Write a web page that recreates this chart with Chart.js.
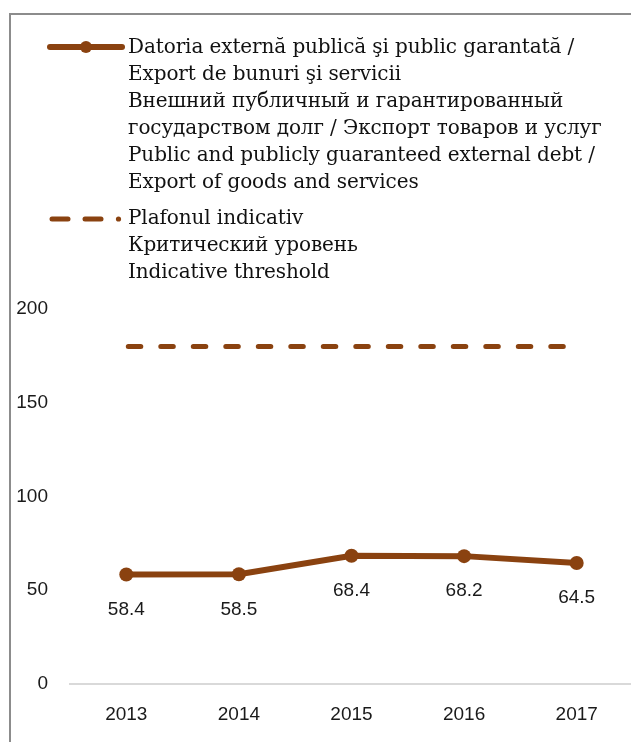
<!DOCTYPE html>
<html>
<head>
<meta charset="utf-8">
<script src="https://cdn.jsdelivr.net/npm/chart.js@4/dist/chart.umd.min.js"></script>
<style>
  html, body { margin: 0; padding: 0; background: #fff; overflow: hidden; width: 631px; height: 742px; }
  #frame { position: absolute; left: 9px; top: 13px; width: 700px; height: 800px; border-left: 2px solid #8c8c8c; border-top: 2px solid #8c8c8c; box-sizing: border-box; }
  #wrap { position: absolute; left: 0; top: 0; width: 640px; height: 742px; }
  .lg { position: absolute; left: 128px; font-family: "DejaVu Serif", serif; font-size: 20px; color: #111; line-height: 27px; white-space: nowrap; letter-spacing: -0.1px; }
  .sym { position: absolute; left: 46px; }
</style>
</head>
<body>
<div id="frame"></div>
<div id="wrap"><canvas id="c" width="640" height="742"></canvas></div>
<svg class="sym" style="top:37px" width="80" height="20">
  <line x1="4" y1="10" x2="76" y2="10" stroke="#8a4210" stroke-width="6" stroke-linecap="round"/>
  <circle cx="40" cy="10" r="6" fill="#8a4210"/>
</svg>
<div class="lg" id="lg1" style="top:33px"></div>
<svg class="sym" style="top:209px" width="80" height="20">
  <line x1="6" y1="10" x2="22" y2="10" stroke="#8a4210" stroke-width="5" stroke-linecap="round"/>
  <line x1="39" y1="10" x2="55" y2="10" stroke="#8a4210" stroke-width="5" stroke-linecap="round"/>
  <circle cx="72.5" cy="10" r="2.6" fill="#8a4210"/>
</svg>
<div class="lg" id="lg2" style="top:204px"></div>
<script>
const categories = ["2013", "2014", "2015", "2016", "2017"];
const debtToExport = [58.4, 58.5, 68.4, 68.2, 64.5];
const indicativeThreshold = [180, 180, 180, 180, 180];
const yTicks = [0, 50, 100, 150, 200];
const seriesLabels = [
  ["Datoria externă publică şi public garantată /", "Export de bunuri şi servicii", "Внешний публичный и гарантированный", "государством долг / Экспорт товаров и услуг", "Public and publicly guaranteed external debt /", "Export of goods and services"],
  ["Plafonul indicativ", "Критический уровень", "Indicative threshold"]
];

document.getElementById('lg1').innerHTML = seriesLabels[0].join('<br>');
document.getElementById('lg2').innerHTML = seriesLabels[1].join('<br>');

const brown = '#8a4210';
const tickFont = { family: '"Liberation Sans", Arial, sans-serif', size: 19 };

const valueLabels = {
  id: 'valueLabels',
  afterDatasetsDraw(chart) {
    const ctx = chart.ctx;
    const meta = chart.getDatasetMeta(0);
    ctx.save();
    ctx.font = '19px "Liberation Sans", Arial, sans-serif';
    ctx.fillStyle = '#1a1a1a';
    ctx.textAlign = 'center';
    ctx.textBaseline = 'middle';
    meta.data.forEach((pt, i) => {
      ctx.fillText(debtToExport[i].toFixed(1), pt.x, pt.y + 35);
    });
    ctx.restore();
  }
};

new Chart(document.getElementById('c'), {
  type: 'line',
  data: {
    labels: categories,
    datasets: [
      {
        label: seriesLabels[0].join(' '),
        data: debtToExport,
        borderColor: brown,
        backgroundColor: brown,
        borderWidth: 6,
        pointRadius: 7,
        pointHoverRadius: 7,
        pointBackgroundColor: brown,
        pointBorderWidth: 0,
        tension: 0
      },
      {
        label: seriesLabels[1].join(' '),
        data: indicativeThreshold,
        borderColor: brown,
        borderWidth: 5,
        borderDash: [12.5, 20],
        borderDashOffset: -2,
        borderCapStyle: 'round',
        pointRadius: 0,
        pointHoverRadius: 0,
        tension: 0
      }
    ]
  },
  options: {
    responsive: false,
    animation: false,
    events: [],
    layout: { padding: { top: 309, left: 0, right: 5, bottom: 0 } },
    plugins: { legend: { display: false }, tooltip: { enabled: false } },
    scales: {
      x: {
        offset: true,
        grid: { display: true, color: 'transparent', drawTicks: false },
        border: { display: true, color: '#d9d9d9', width: 2 },
        ticks: { color: '#1a1a1a', font: tickFont, padding: 19, maxRotation: 0 },
        afterFit(s) { s.height = 58; }
      },
      y: {
        min: 0,
        max: 200,
        afterBuildTicks(s) { s.ticks = yTicks.map(v => ({ value: v })); },
        grid: { display: false, drawTicks: false },
        border: { display: false },
        ticks: { color: '#1a1a1a', font: tickFont, padding: 22 },
        afterFit(s) { s.width = 70; }
      }
    }
  },
  plugins: [valueLabels]
});
</script>
</body>
</html>
